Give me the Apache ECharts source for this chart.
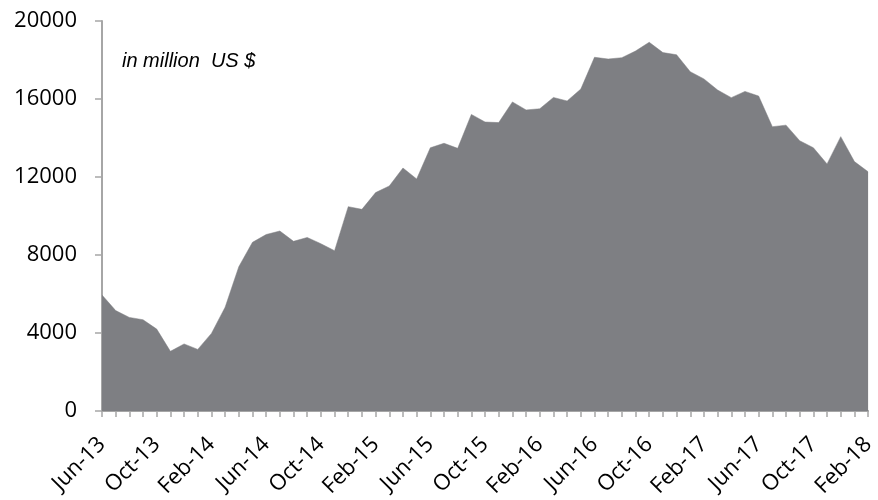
<!DOCTYPE html>
<html>
<head>
<meta charset="utf-8">
<script src="https://cdn.jsdelivr.net/npm/echarts@6/dist/echarts.min.js"></script>
<style>
  html, body { margin: 0; padding: 0; background: #ffffff; }
  #chart { width: 878px; height: 500px; }
</style>
</head>
<body>
<div id="chart"></div>
<script>
// Monthly values, Jun-13 through Feb-18 (in million US $)
const months = [
  'Jun-13','Jul-13','Aug-13','Sep-13','Oct-13','Nov-13','Dec-13',
  'Jan-14','Feb-14','Mar-14','Apr-14','May-14','Jun-14','Jul-14','Aug-14','Sep-14','Oct-14','Nov-14','Dec-14',
  'Jan-15','Feb-15','Mar-15','Apr-15','May-15','Jun-15','Jul-15','Aug-15','Sep-15','Oct-15','Nov-15','Dec-15',
  'Jan-16','Feb-16','Mar-16','Apr-16','May-16','Jun-16','Jul-16','Aug-16','Sep-16','Oct-16','Nov-16','Dec-16',
  'Jan-17','Feb-17','Mar-17','Apr-17','May-17','Jun-17','Jul-17','Aug-17','Sep-17','Oct-17','Nov-17','Dec-17',
  'Jan-18','Feb-18'
];
const values = [
  5950, 5150, 4800, 4680, 4200, 3060, 3440,
  3160, 3980, 5320, 7400, 8650, 9050, 9230, 8700, 8900, 8580, 8220, 10480,
  10340, 11200, 11540, 12460, 11900, 13500, 13730, 13470, 15210, 14820, 14790, 15850,
  15440, 15500, 16080, 15900, 16510, 18140, 18050, 18120, 18460, 18910, 18380, 18270,
  17400, 17030, 16460, 16070, 16390, 16150, 14580, 14660, 13860, 13500, 12670, 14070,
  12790, 12270
];
const yTicks = [0, 4000, 8000, 12000, 16000, 20000];
const unitNote = 'in million  US $';

const axisGray = '#a6a6a6';
const fillGray = '#7e7f83';
const labelFont = '"Open Sans", "Liberation Sans", sans-serif';

const chart = echarts.init(document.getElementById('chart'), null, { renderer: 'canvas' });
chart.setOption({
  animation: false,
  backgroundColor: '#ffffff',
  grid: { left: 102, right: 8, top: 21, bottom: 89, containLabel: false },
  graphic: [{
    type: 'text',
    left: 122,
    top: 51,
    style: {
      text: unitNote,
      font: 'italic 20px "Liberation Sans", Arial, sans-serif',
      fill: '#000000'
    }
  }],
  xAxis: {
    type: 'category',
    data: months,
    boundaryGap: false,
    axisLine: { show: true, lineStyle: { color: axisGray, width: 2 } },
    axisTick: { show: true, alignWithLabel: true, interval: 0, length: 6, inside: false, lineStyle: { color: axisGray, width: 1.5 } },
    axisLabel: {
      interval: 3,
      rotate: 45,
      margin: 30,
      color: '#000000',
      fontFamily: labelFont,
      fontSize: 22
    },
    splitLine: { show: false }
  },
  yAxis: {
    type: 'value',
    min: yTicks[0],
    max: yTicks[yTicks.length - 1],
    interval: yTicks[1] - yTicks[0],
    axisLine: { show: true, lineStyle: { color: axisGray, width: 2 } },
    axisTick: { show: true, length: 7, inside: false, lineStyle: { color: axisGray, width: 1.5 } },
    axisLabel: {
      margin: 25,
      color: '#000000',
      fontFamily: labelFont,
      fontSize: 22,
      formatter: (v) => String(v)
    },
    splitLine: { show: false }
  },
  series: [{
    type: 'line',
    data: values,
    symbol: 'none',
    smooth: false,
    lineStyle: { color: fillGray, width: 0.5 },
    areaStyle: { color: fillGray, opacity: 1 },
    z: 1
  }]
});
</script>
</body>
</html>
